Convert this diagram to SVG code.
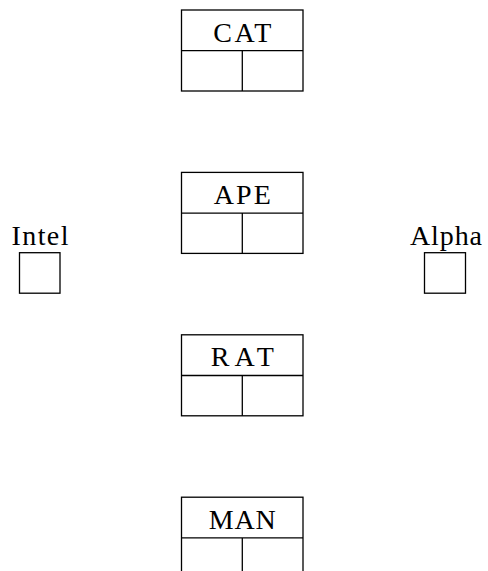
<svg xmlns="http://www.w3.org/2000/svg" width="488" height="571" viewBox="0 0 488 571">
  <style>
    .box { fill: #fff; stroke: #000; stroke-width: 1.3; }
    .rule { stroke: #000; stroke-width: 1.3; fill: none; }
    .lbl { font-family: "Liberation Serif", "Times New Roman", serif; font-size: 28px; fill: #000; text-anchor: middle; }
  </style>
  <defs>
    <!-- record node: title cell above two equal cells -->
    <g id="record">
      <rect class="box" x="0" y="0" width="121.5" height="81"/>
      <line class="rule" x1="0" y1="40.7" x2="121.5" y2="40.7"/>
      <line class="rule" x1="60.8" y1="40.7" x2="60.8" y2="81"/>
    </g>
  </defs>

  <g id="connectors"></g>

  <g id="CAT" transform="translate(181.5,10)">
    <use href="#record"/>
    <text class="lbl" x="60.8" y="31.7" textLength="58" lengthAdjust="spacing">CAT</text>
  </g>

  <g id="APE" transform="translate(181.5,172.4)">
    <use href="#record"/>
    <text class="lbl" x="60.8" y="31.7" textLength="57" lengthAdjust="spacing">APE</text>
  </g>

  <g id="RAT" transform="translate(181.5,334.8)">
    <use href="#record"/>
    <text class="lbl" x="60.8" y="31.7" textLength="63" lengthAdjust="spacing">RAT</text>
  </g>

  <g id="MAN" transform="translate(181.5,497.2)">
    <use href="#record"/>
    <text class="lbl" x="60.8" y="31.7" textLength="67" lengthAdjust="spacing">MAN</text>
  </g>

  <g id="Intel">
    <text class="lbl" x="40" y="245" textLength="57" lengthAdjust="spacing">Intel</text>
    <rect class="box" x="19.5" y="252.7" width="40.5" height="40.5"/>
  </g>

  <g id="Alpha">
    <text class="lbl" x="446" y="245" textLength="72" lengthAdjust="spacing">Alpha</text>
    <rect class="box" x="424.5" y="252.7" width="41" height="40.5"/>
  </g>
</svg>
